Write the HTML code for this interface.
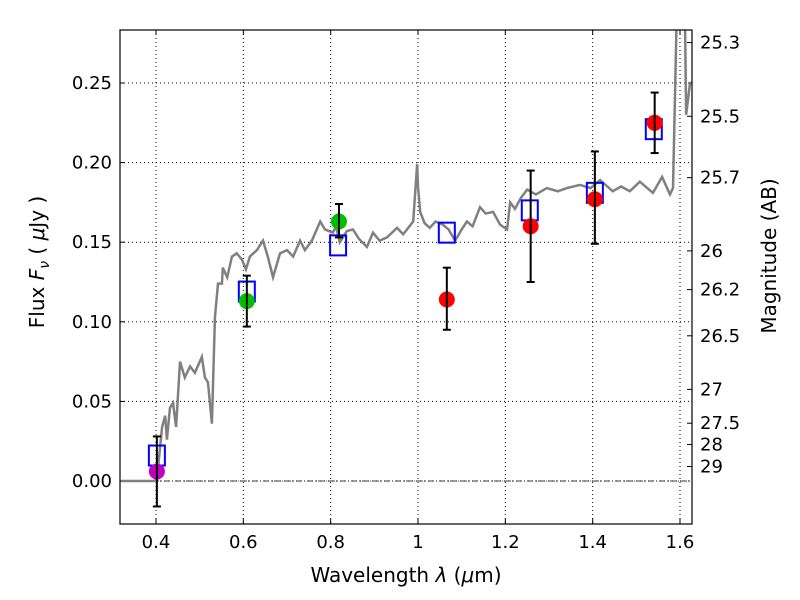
<!DOCTYPE html>
<html><head><meta charset="utf-8"><style>
body{margin:0;background:#fff;}
svg{display:block;font-family:"DejaVu Sans","Liberation Sans",sans-serif;}
</style></head><body>
<svg id="chart" width="800" height="600" xmlns="http://www.w3.org/2000/svg"></svg>
<script>
const specX=[0.32,0.395,0.402,0.414,0.421,0.425,0.432,0.439,0.446,0.455,0.466,0.478,0.489,0.505,0.512,0.519,0.528,0.535,0.542,0.551,0.553,0.563,0.574,0.585,0.597,0.606,0.615,0.631,0.645,0.656,0.668,0.684,0.700,0.714,0.730,0.741,0.757,0.776,0.787,0.805,0.812,0.821,0.837,0.851,0.865,0.883,0.897,0.912,0.929,0.952,0.966,0.989,0.998,1.0,1.005,1.015,1.027,1.040,1.057,1.070,1.085,1.100,1.112,1.125,1.142,1.155,1.172,1.188,1.204,1.211,1.222,1.236,1.250,1.270,1.295,1.320,1.341,1.371,1.395,1.417,1.446,1.465,1.485,1.508,1.525,1.538,1.559,1.577,1.584,1.593,1.611,1.614,1.623,1.627];
const specY=[0,0,0.001,0.034,0.041,0.026,0.046,0.049,0.034,0.075,0.065,0.072,0.068,0.078,0.065,0.062,0.036,0.103,0.124,0.124,0.134,0.128,0.141,0.143,0.139,0.133,0.141,0.145,0.151,0.141,0.128,0.143,0.145,0.141,0.151,0.145,0.151,0.163,0.158,0.156,0.160,0.150,0.157,0.158,0.152,0.147,0.156,0.151,0.153,0.159,0.155,0.163,0.199,0.185,0.169,0.162,0.159,0.163,0.161,0.158,0.151,0.158,0.163,0.160,0.172,0.168,0.169,0.161,0.158,0.175,0.171,0.178,0.183,0.180,0.184,0.182,0.184,0.186,0.184,0.189,0.182,0.185,0.182,0.188,0.184,0.181,0.191,0.180,0.184,0.30,0.30,0.23,0.25,0.25];
const modelX=[0.402,0.608,0.817,1.066,1.256,1.405,1.540];
const modelY=[0.016,0.119,0.148,0.156,0.170,0.181,0.221];
const obsX=[0.402,0.608,0.819,1.066,1.258,1.405,1.542];
const obsY=[0.006,0.113,0.163,0.114,0.160,0.177,0.225];
const obsHi=[0.028,0.129,0.174,0.134,0.195,0.207,0.244];
const obsLo=[-0.016,0.097,0.153,0.095,0.125,0.149,0.206];
const obsColor=["#bf00bf","#00bf00","#00bf00","#ff0000","#ff0000","#ff0000","#ff0000"];
const xTicks=[0.4,0.6,0.8,1.0,1.2,1.4,1.6];
const xTickLabels=["0.4","0.6","0.8","1","1.2","1.4","1.6"];
const yTicks=[0,0.05,0.10,0.15,0.20,0.25];
const yTickLabels=["0.00","0.05","0.10","0.15","0.20","0.25"];
const magTicks=[25.3,25.5,25.7,26,26.2,26.5,27,27.5,28,29];
const magLabels=["25.3","25.5","25.7","26","26.2","26.5","27","27.5","28","29"];

const L=120,R=692,T=30,B=524;
const X=v=>156+(v-0.4)*436.67;
const Y=v=>481-v*1592;
const svg=document.getElementById('chart');
const NS="http://www.w3.org/2000/svg";
function mk(tag,attrs,parent){const e=document.createElementNS(NS,tag);for(const k in attrs)e.setAttribute(k,attrs[k]);(parent||svg).appendChild(e);return e;}

const clip=mk('clipPath',{id:'pc'});mk('rect',{x:L,y:T,width:R-L,height:B-T},clip);
const grid=mk('g',{});


xTicks.forEach((t,i)=>{
  mk('line',{x1:X(t),x2:X(t),y1:T,y2:B,stroke:'#000','stroke-width':1,'stroke-dasharray':'1,3'},grid);
  mk('line',{x1:X(t),x2:X(t),y1:B,y2:B-5,stroke:'#000'},grid);
  mk('line',{x1:X(t),x2:X(t),y1:T,y2:T+5,stroke:'#000'},grid);
  const tx=mk('text',{x:X(t),y:B+24,'font-size':18,'text-anchor':'middle'});
  
  
  tx.textContent=xTickLabels[i];
});
yTicks.forEach((t,i)=>{
  mk('line',{x1:L,x2:R,y1:Y(t),y2:Y(t),stroke:'#000','stroke-width':1,'stroke-dasharray':'1,3'},grid);
  mk('line',{x1:L,x2:L+5,y1:Y(t),y2:Y(t),stroke:'#000'},grid);
  const tx=mk('text',{x:L-8,y:Y(t)+6,'font-size':18,'text-anchor':'end'});
  
  
  tx.textContent=yTickLabels[i];
});
magTicks.forEach((m,i)=>{
  const y=Y(Math.pow(10,(23.9-m)/2.5));
  mk('line',{x1:R,x2:R-5,y1:y,y2:y,stroke:'#000'},grid);
  const tx=mk('text',{x:R+8,y:y+6,'font-size':18});
  
  
  tx.textContent=magLabels[i];
});
const zl=mk('line',{x1:L,x2:R,y1:Y(0),y2:Y(0),stroke:'#000','stroke-width':0.8,'stroke-dasharray':'6,2,1,2'});



const g=mk('g',{'clip-path':'url(#pc)'});
const sp=mk('polyline',{points:specX.map((x,i)=>X(x)+','+Y(specY[i])).join(' '),fill:'none',stroke:'#808080','stroke-width':2.5},g);


modelX.forEach((x,i)=>{
  const r=mk('rect',{x:X(x)-8,y:Y(modelY[i])-10,width:16,height:20,fill:'none',stroke:'#0000ff','stroke-width':2},g);
  
  
});
obsX.forEach((x,i)=>{
  const c=mk('circle',{cx:X(x),cy:Y(obsY[i]),r:8,fill:obsColor[i]},g);
  
  
  const eb=mk('g',{stroke:'#000','stroke-width':2},g);
  
  
  mk('line',{x1:X(x),x2:X(x),y1:Y(obsHi[i]),y2:Y(obsLo[i])},eb);
  mk('line',{x1:X(x)-4,x2:X(x)+4,y1:Y(obsHi[i]),y2:Y(obsHi[i])},eb);
  mk('line',{x1:X(x)-4,x2:X(x)+4,y1:Y(obsLo[i]),y2:Y(obsLo[i])},eb);
});
const fr=mk('rect',{x:L,y:T,width:R-L,height:B-T,fill:'none',stroke:'#000','stroke-width':1.2});


</script>
<svg style="position:absolute;left:0;top:0" width="800" height="600" xmlns="http://www.w3.org/2000/svg" font-family="DejaVu Sans, Liberation Sans, sans-serif">
<text x="406" y="582" font-size="20" text-anchor="middle">Wavelength  <tspan font-style="italic">λ</tspan> (<tspan font-style="italic">μ</tspan>m)</text>
<text transform="translate(44,262) rotate(-90)" font-size="20" text-anchor="middle">Flux  <tspan font-style="italic">F</tspan><tspan font-style="italic" font-size="14" dy="5">ν</tspan><tspan dy="-5">  ( </tspan><tspan font-style="italic">μ</tspan>Jy )</text>
<text transform="translate(776,256) rotate(-90)" font-size="20" text-anchor="middle">Magnitude (AB)</text>
</svg>
</body></html>
